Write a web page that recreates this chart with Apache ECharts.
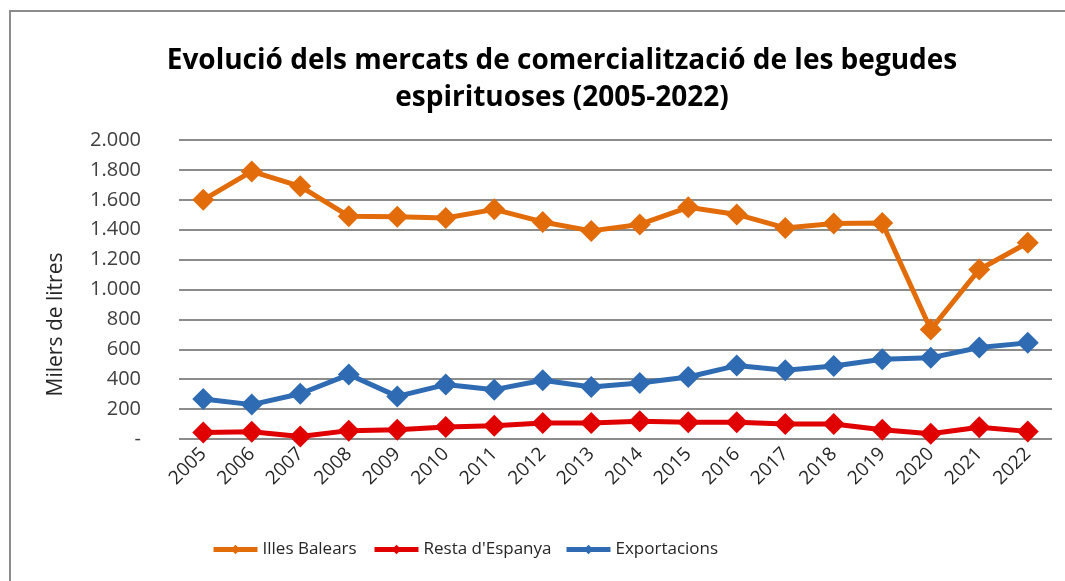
<!DOCTYPE html>
<html>
<head>
<meta charset="utf-8">
<script src="https://cdn.jsdelivr.net/npm/echarts@6/dist/echarts.min.js"></script>
<style>
  html, body { margin: 0; padding: 0; background: #fff; }
  #chart { width: 1065px; height: 581px; }
</style>
</head>
<body>
<div id="chart"></div>
<script>
const years = ['2005', '2006', '2007', '2008', '2009', '2010', '2011', '2012', '2013',
  '2014', '2015', '2016', '2017', '2018', '2019', '2020', '2021', '2022'];
const illesBalears = [1600, 1790, 1690, 1490, 1487, 1478, 1536, 1452, 1392,
  1435, 1550, 1502, 1412, 1442, 1445, 732, 1134, 1313];
const restaEspanya = [44, 48, 17, 56, 62, 80, 89, 107, 107,
  118, 112, 112, 100, 100, 62, 35, 78, 51];
const exportacions = [268, 230, 303, 431, 285, 364, 330, 393, 348,
  375, 415, 491, 460, 488, 533, 543, 612, 643];
const yTicks = [0, 200, 400, 600, 800, 1000, 1200, 1400, 1600, 1800, 2000];
const seriesNames = ['Illes Balears', "Resta d'Espanya", 'Exportacions'];

const chart = echarts.init(document.getElementById('chart'));

const fmt = v => v === 0 ? '-' : v.toLocaleString('de-DE');

const mkSeries = (name, data, color) => ({
  name: name,
  type: 'line',
  data: data,
  symbol: 'diamond',
  symbolSize: 22,
  lineStyle: { width: 5, color: color },
  itemStyle: { color: color },
  emphasis: { disabled: true }
});

// one legend per item so each sits where the original puts it
const legendLefts = [206, 367, 559];
const legends = seriesNames.map((n, i) => ({
  bottom: 18,
  left: legendLefts[i],
  itemWidth: 44,
  itemHeight: 12,
  lineStyle: { width: 5 },
  textStyle: { fontSize: 17, color: '#262626', fontFamily: 'Open Sans' },
  data: [n]
}));

const option = {
  animation: false,
  textStyle: { fontFamily: 'Open Sans' },
  title: {
    text: 'Evolució dels mercats de comercialització de les begudes\nespirituoses (2005-2022)',
    left: 557,
    textAlign: 'center',
    top: 38,
    textStyle: {
      fontFamily: 'Open Sans',
      fontWeight: 'bold',
      fontSize: 28,
      lineHeight: 37,
      color: '#000'
    }
  },
  graphic: [{
    type: 'rect',
    shape: { x: 10, y: 11, width: 1200, height: 700 },
    style: { fill: 'none', stroke: '#8c8c8c', lineWidth: 2 },
    silent: true
  }],
  legend: legends,
  grid: { left: 179, right: 13, top: 140, bottom: 142 },
  xAxis: {
    type: 'category',
    data: years,
    boundaryGap: true,
    axisLine: { show: false },
    axisTick: { show: false },
    axisLabel: {
      rotate: 45,
      fontSize: 19,
      color: '#262626',
      margin: 12
    }
  },
  yAxis: {
    type: 'value',
    min: yTicks[0],
    max: yTicks[yTicks.length - 1],
    interval: 200,
    name: 'Milers de litres',
    nameLocation: 'middle',
    nameGap: 112,
    // excel centres the title lower than the plot middle
    nameTextStyle: { fontSize: 21, color: '#262626', padding: [0, 70, 0, 0] },
    axisLabel: {
      fontSize: 20,
      color: '#404040',
      margin: 38,
      formatter: fmt
    },
    splitLine: { lineStyle: { color: '#8c8c8c', width: 2 } }
  },
  series: [
    mkSeries(seriesNames[0], illesBalears, '#E36C0A'),
    mkSeries(seriesNames[1], restaEspanya, '#E00000'),
    mkSeries(seriesNames[2], exportacions, '#2E6BB2')
  ]
};

chart.setOption(option);
</script>
</body>
</html>
